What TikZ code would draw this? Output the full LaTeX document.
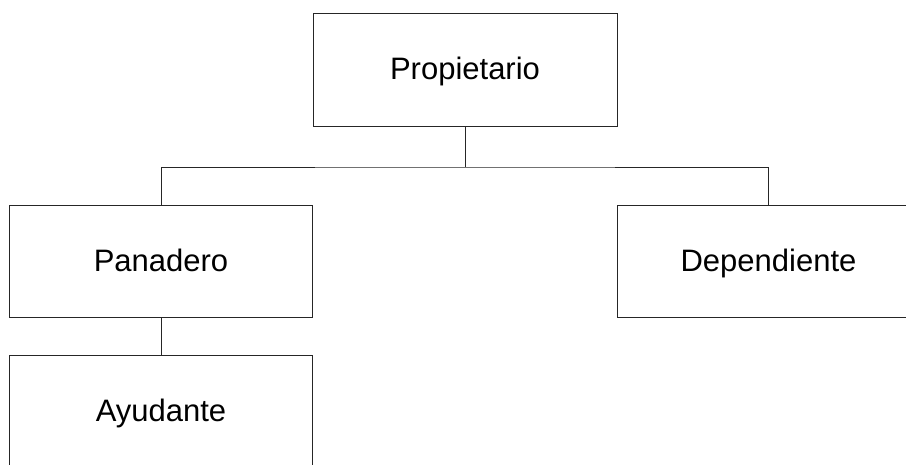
\documentclass[tikz,border=0pt]{standalone}
\usepackage{fontspec}
\setmainfont{Liberation Sans}
\begin{document}
\begin{tikzpicture}[x=1pt,y=-1pt,
  orgbox/.style={draw=black!85, line width=1pt, fill=white, minimum width=303pt, minimum height=112pt, inner sep=0pt, text height=22pt, text depth=2pt, font=\fontsize{31}{37}\selectfont},
  link/.style={draw=black!85, line width=1pt}]
\useasboundingbox (0,0) rectangle (906,464);
\clip (0,0) rectangle (906,464);
\fill[white] (0,0) rectangle (906,464);
\node[orgbox, minimum width=304pt, minimum height=113pt] (prop) at (465,69.5) {Propietario};
\node[orgbox] (pan) at (161,261.5) {Panadero};
\node[orgbox] (dep) at (768.5,261.5) {Dependiente};
\node[orgbox] (ayu) at (161,411.5) {Ayudante};
\coordinate (bus) at (465,167);
\draw[link] (prop.south) -- (bus);
\draw[link] (pan.north) |- (bus) -| (dep.north);
\draw[link] (pan.south) -- (ayu.north);
\end{tikzpicture}
\end{document}
